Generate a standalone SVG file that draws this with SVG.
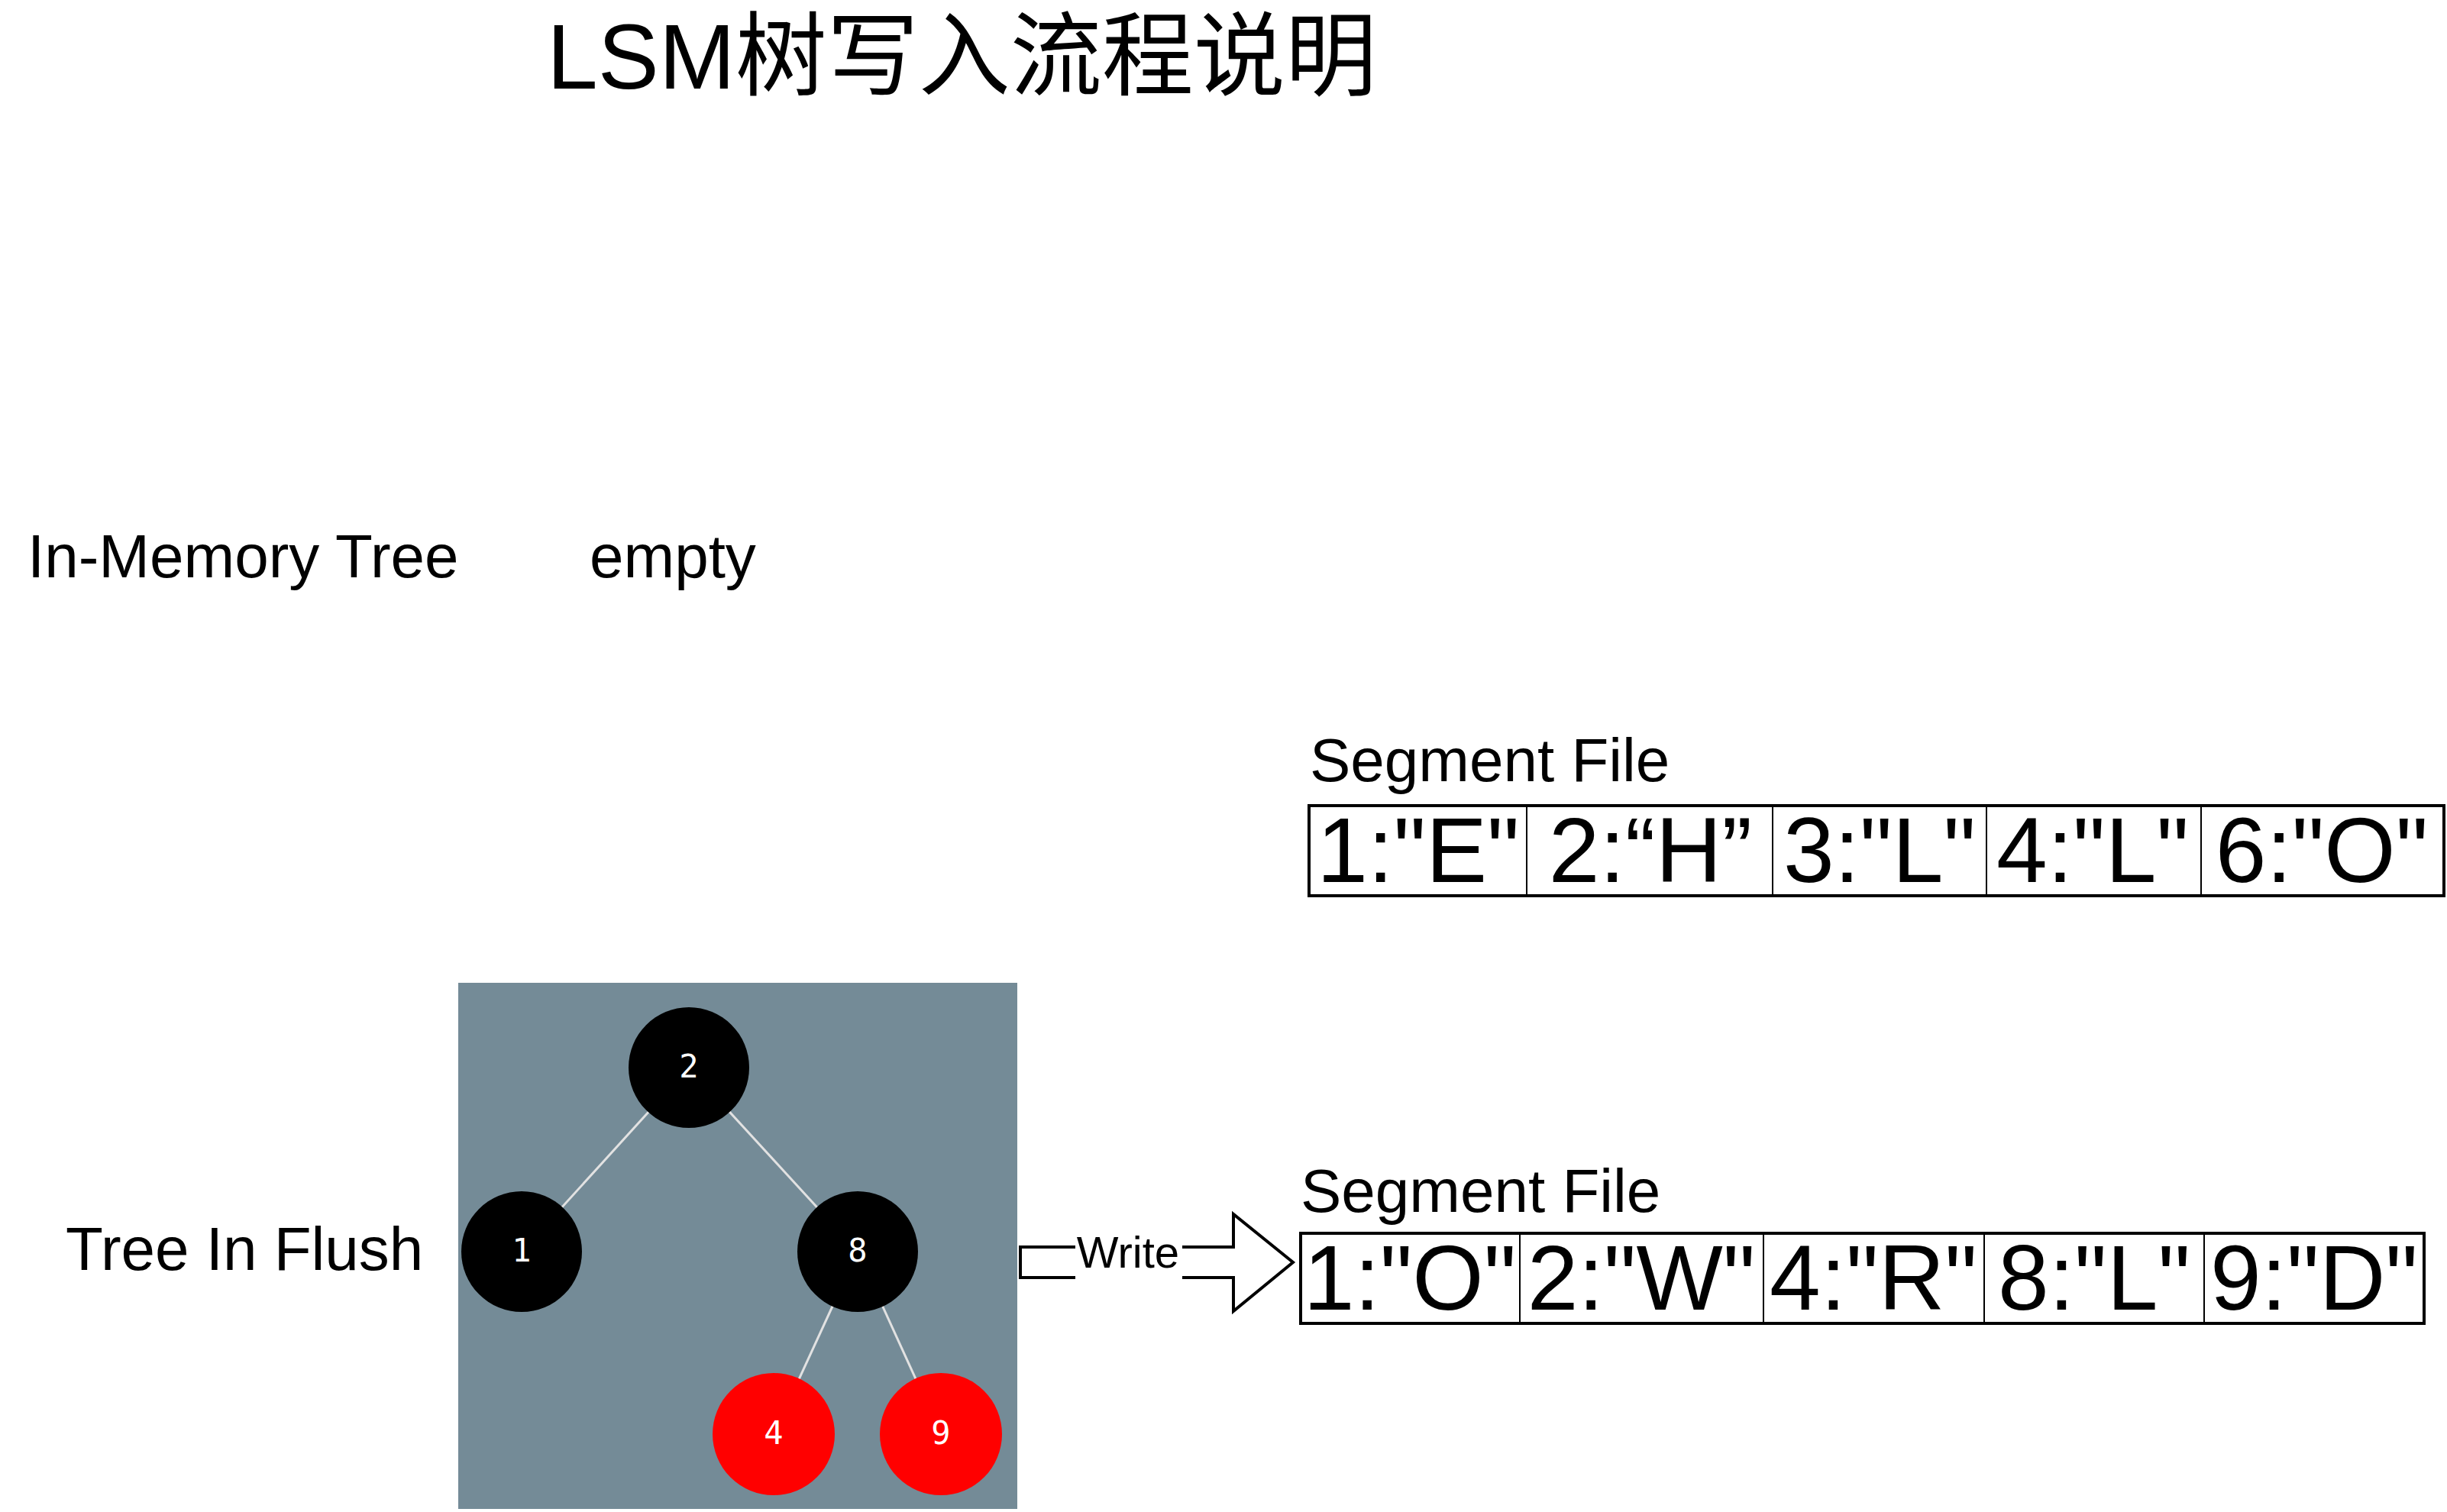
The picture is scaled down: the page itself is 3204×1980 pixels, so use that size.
<svg xmlns="http://www.w3.org/2000/svg" width="3204" height="1980" viewBox="0 0 3204 1980">
<style>
.t{font-family:"Liberation Sans","Noto Sans CJK SC",sans-serif;fill:#000}
.lbl{font-size:80px}
.cell{font-size:120px;text-anchor:middle}
.c{fill:none;stroke:#000;stroke-width:2}
.frame{fill:none;stroke:#000;stroke-width:4}
.edge{stroke:#e2e2e2;stroke-width:3}
.num{font-family:"DejaVu Sans Mono",monospace;font-size:42px;fill:#fff;text-anchor:middle}
</style>
<rect width="3204" height="1980" fill="#fff"/>
<g id="title"><text class="t" x="716" y="116" font-size="120">LSM树写入流程说明</text></g>
<g id="in-memory-label"><text class="t lbl" x="36" y="756">In-Memory Tree</text></g>
<g id="in-memory-value"><text class="t lbl" x="772" y="756">empty</text></g>
<g id="segment-file-1">
<text class="t lbl" x="1715" y="1023">Segment File</text>
<rect class="c" x="1714" y="1055" width="285" height="118"/>
<rect class="c" x="1999" y="1055" width="322" height="118"/>
<rect class="c" x="2321" y="1055" width="280" height="118"/>
<rect class="c" x="2601" y="1055" width="281" height="118"/>
<rect class="c" x="2882" y="1055" width="318" height="118"/>
<rect class="frame" x="1714" y="1055" width="1486" height="118"/>
<text class="t cell" x="1857" y="1155">1:"E"</text>
<text class="t cell" x="2161" y="1155">2:“H”</text>
<text class="t cell" x="2461" y="1155">3:"L"</text>
<text class="t cell" x="2740" y="1155">4:"L"</text>
<text class="t cell" x="3040" y="1155">6:"O"</text>
</g>
<g id="tree-in-flush-label"><text class="t lbl" x="86" y="1663">Tree In Flush</text></g>
<g id="tree-in-flush">
<rect x="600" y="1287" width="732" height="689" fill="#748b97"/>
<g id="tree-edges">
<line class="edge" x1="902" y1="1398" x2="683" y2="1639"/>
<line class="edge" x1="902" y1="1398" x2="1123" y2="1639"/>
<line class="edge" x1="1123" y1="1639" x2="1013" y2="1878"/>
<line class="edge" x1="1123" y1="1639" x2="1232" y2="1878"/>
</g>
<g id="rb-2"><circle cx="902" cy="1398" r="79" fill="#000"/><text class="num" x="902" y="1411">2</text></g>
<g id="rb-1"><circle cx="683" cy="1639" r="79" fill="#000"/><text class="num" x="683" y="1652">1</text></g>
<g id="rb-8"><circle cx="1123" cy="1639" r="79" fill="#000"/><text class="num" x="1123" y="1652">8</text></g>
<g id="rb-4"><circle cx="1013" cy="1878" r="80" fill="#f00"/><text class="num" x="1013" y="1891">4</text></g>
<g id="rb-9"><circle cx="1232" cy="1878" r="80" fill="#f00"/><text class="num" x="1232" y="1891">9</text></g>
</g>
<g id="connectors">
<polygon points="1336,1633 1615,1633 1615,1590 1693,1653 1615,1717 1615,1673 1336,1673" fill="#fff" stroke="#000" stroke-width="4"/>
<rect x="1408" y="1622" width="140" height="60" fill="#fff"/>
<text class="t" x="1477" y="1660" font-size="58" text-anchor="middle">Write</text>
</g>
<g id="segment-file-2">
<text class="t lbl" x="1703" y="1587">Segment File</text>
<rect class="c" x="1703" y="1615" width="287" height="118"/>
<rect class="c" x="1990" y="1615" width="319" height="118"/>
<rect class="c" x="2309" y="1615" width="289" height="118"/>
<rect class="c" x="2598" y="1615" width="288" height="118"/>
<rect class="c" x="2886" y="1615" width="288" height="118"/>
<rect class="frame" x="1703" y="1615" width="1471" height="118"/>
<text class="t cell" x="1846" y="1715">1:"O"</text>
<text class="t cell" x="2149" y="1715">2:"W"</text>
<text class="t cell" x="2453" y="1715">4:"R"</text>
<text class="t cell" x="2742" y="1715">8:"L"</text>
<text class="t cell" x="3030" y="1715">9:"D"</text>
</g>
</svg>
